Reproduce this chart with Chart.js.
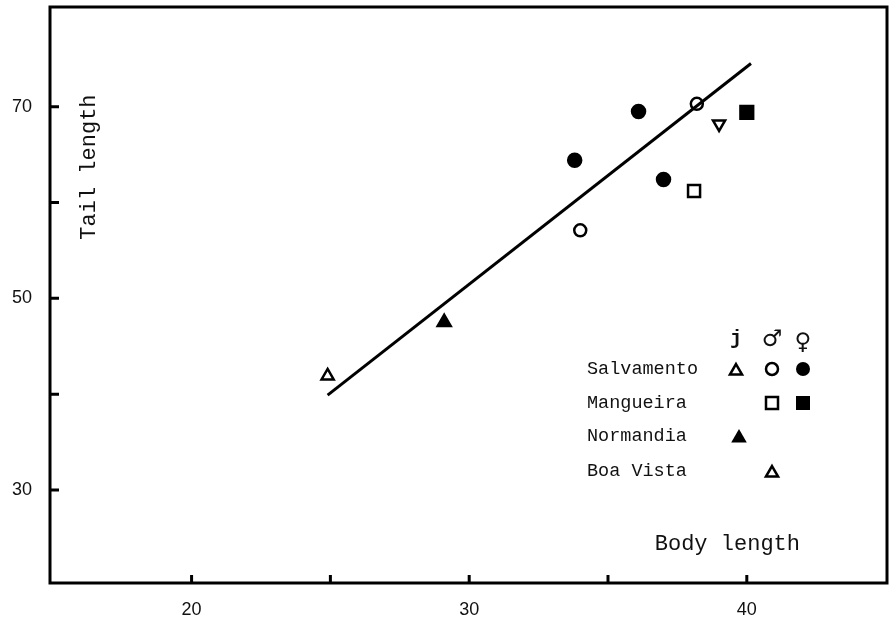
<!DOCTYPE html>
<html>
<head>
<meta charset="utf-8">
<script src="https://cdn.jsdelivr.net/npm/chart.js@4.4.0/dist/chart.umd.min.js"></script>
<style>
  body { margin: 0; background: #fff; }
  #wrap { width: 890px; height: 625px; }
</style>
</head>
<body>
<div id="wrap"><canvas id="chart" width="890" height="625"></canvas></div>
<script>
// tick labels and tick marks
const xLabels = [20, 30, 40];
const yLabels = [30, 50, 70];
const xTickMarks = [20, 25, 30, 35, 40];
const yTickMarks = [30, 40, 50, 60, 70];

// points: [body length, tail length]
const salvJuv = [[24.9, 41.9]];
const salvMale = [[34.0, 57.1], [38.2, 70.3]];
const salvFemale = [[33.8, 64.4], [36.1, 69.5], [37.0, 62.4]];
const mangMale = [[38.1, 61.2]];
const mangFemale = [[40.0, 69.4]];
const normJuv = [[29.1, 47.5]];
const boaMale = [[39.0, 68.2]];
// regression line end points
const fitLine = [[24.9, 39.9], [40.15, 74.5]];

const legendRows = ["Salvamento", "Mangueira", "Normandia", "Boa Vista"];
const legendHead = ["j", "\u2642", "\u2640"];

const toXY = arr => arr.map(p => ({ x: p[0], y: p[1] }));
const ink = "#000";
const mono = "'Liberation Mono', 'DejaVu Sans Mono', monospace";

function pointSet(data, style, filled, radius, rotation) {
	return {
		data: toXY(data),
		pointStyle: style,
		pointRadius: radius,
		pointHoverRadius: radius,
		pointRotation: rotation || 0,
		pointBorderWidth: 2.5,
		pointBorderColor: ink,
		pointBackgroundColor: filled ? ink : "#fff",
		showLine: false
	};
}

function symbol(ctx, kind, x, y) {
	const filled = kind.endsWith("F");
	ctx.save();
	ctx.lineWidth = 2.5;
	ctx.strokeStyle = ink;
	ctx.fillStyle = ink;
	ctx.beginPath();
	if (kind === "tri" || kind === "triF") {
		const r = filled ? 9 : 7;
		for (let i = 0; i < 3; i++) {
			const a = i * 2 * Math.PI / 3;
			const px = x + Math.sin(a) * r, py = y + 2 - Math.cos(a) * r;
			i ? ctx.lineTo(px, py) : ctx.moveTo(px, py);
		}
		ctx.closePath();
	} else if (kind === "circ" || kind === "circF") {
		ctx.arc(x, y, filled ? 7 : 6, 0, Math.PI * 2);
	} else {
		const h = filled ? 7 : 6;
		ctx.rect(x - h, y - h, 2 * h, 2 * h);
	}
	if (filled) ctx.fill(); else ctx.stroke();
	ctx.restore();
}

function noPad(s) {
	s.paddingTop = 0;
	s.paddingBottom = 0;
	s.paddingLeft = 0;
	s.paddingRight = 0;
}

const frame = {
	id: "frame",
	afterDatasetsDraw(chart) {
		const { ctx, chartArea: a, scales: { x, y } } = chart;
		ctx.save();
		ctx.strokeStyle = ink;
		ctx.lineWidth = 3;
		ctx.strokeRect(a.left, a.top, a.right - a.left, a.bottom - a.top);
		ctx.beginPath();
		xTickMarks.forEach(v => {
			const px = x.getPixelForValue(v);
			ctx.moveTo(px, a.bottom);
			ctx.lineTo(px, a.bottom - 8);
		});
		yTickMarks.forEach(v => {
			const py = y.getPixelForValue(v);
			ctx.moveTo(a.left, py);
			ctx.lineTo(a.left + 9, py);
		});
		ctx.stroke();

		// axis titles inside the frame
		ctx.fillStyle = "#111";
		ctx.font = "22px " + mono;
		ctx.textAlign = "center";
		ctx.textBaseline = "middle";
		ctx.fillText("Body length", x.getPixelForValue(39.3), y.getPixelForValue(24.4));
		ctx.save();
		ctx.translate(x.getPixelForValue(16.32), y.getPixelForValue(63.7));
		ctx.rotate(-Math.PI / 2);
		ctx.fillText("Tail length", 0, 0);
		ctx.restore();

		// legend grid
		const colX = [a.left + 686, a.left + 722, a.left + 753];
		const rowY = [a.top + 362, a.top + 396, a.top + 429, a.top + 464];
		ctx.font = "bold 20px " + mono;
		ctx.fillText(legendHead[0], colX[0], a.top + 332);
		ctx.font = "bold 23px 'DejaVu Sans', sans-serif";
		ctx.fillText(legendHead[1], colX[1], a.top + 333);
		ctx.fillText(legendHead[2], colX[2], a.top + 336);
		ctx.font = "18.5px " + mono;
		ctx.textAlign = "left";
		legendRows.forEach((t, i) => ctx.fillText(t, a.left + 537, rowY[i]));
		symbol(ctx, "tri", colX[0], rowY[0]);
		symbol(ctx, "circ", colX[1], rowY[0]);
		symbol(ctx, "circF", colX[2], rowY[0]);
		symbol(ctx, "sq", colX[1], rowY[1]);
		symbol(ctx, "sqF", colX[2], rowY[1]);
		symbol(ctx, "triF", colX[0] + 3, rowY[2]);
		symbol(ctx, "tri", colX[1], rowY[3]);
		ctx.restore();
	}
};

new Chart(document.getElementById("chart"), {
	type: "scatter",
	data: {
		datasets: [
			{
				data: toXY(fitLine),
				showLine: true,
				borderColor: ink,
				borderWidth: 3,
				pointRadius: 0,
				pointHoverRadius: 0
			},
			pointSet(salvJuv, "triangle", false, 7),
			pointSet(salvMale, "circle", false, 6),
			pointSet(salvFemale, "circle", true, 6.5),
			pointSet(mangMale, "rect", false, 8.5),
			pointSet(mangFemale, "rect", true, 9),
			pointSet(normJuv, "triangle", true, 7.5),
			pointSet(boaMale, "triangle", false, 7, 180)
		]
	},
	options: {
		responsive: false,
		animation: false,
		events: [],
		layout: { autoPadding: false, padding: { top: 7, right: 3, left: 0, bottom: 0 } },
		plugins: { legend: { display: false }, tooltip: { enabled: false } },
		scales: {
			x: {
				type: "linear",
				min: 14.9,
				max: 45.05,
				grid: { display: false, drawTicks: false, tickLength: 0 },
				border: { display: false },
				afterBuildTicks: s => { s.ticks = xLabels.map(v => ({ value: v })); },
				afterFit: s => { s.height = 42; noPad(s); },
				ticks: {
					padding: 16,
					color: "#111",
					font: { family: "'Liberation Sans', Arial, sans-serif", size: 18 },
					maxRotation: 0
				}
			},
			y: {
				type: "linear",
				min: 20.3,
				max: 80.4,
				grid: { display: false, drawTicks: false, tickLength: 0 },
				border: { display: false },
				afterBuildTicks: s => { s.ticks = yLabels.map(v => ({ value: v })); },
				afterFit: s => { s.width = 50; noPad(s); },
				ticks: {
					padding: 18,
					color: "#111",
					font: { family: "'Liberation Sans', Arial, sans-serif", size: 18 }
				}
			}
		}
	},
	plugins: [frame]
});
</script>
</body>
</html>
